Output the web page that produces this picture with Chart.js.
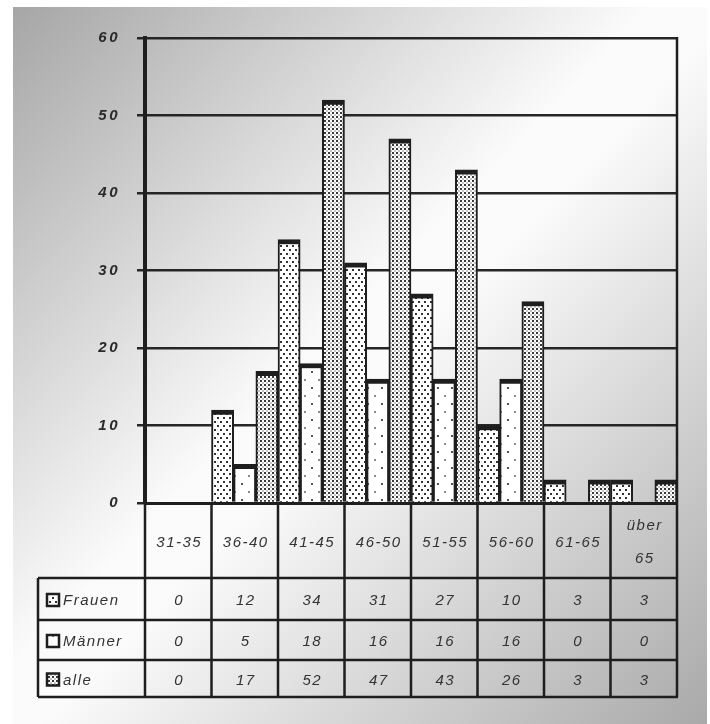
<!DOCTYPE html>
<html>
<head>
<meta charset="utf-8">
<title>Altersverteilung</title>
<script src="https://cdn.jsdelivr.net/npm/chart.js@4/dist/chart.umd.min.js"></script>
<style>
    html, body { margin: 0; padding: 0; background: #ffffff; }
    #frame {
        position: absolute; left: 13px; top: 7px; width: 694px; height: 717px;
        background: linear-gradient(to bottom right, #a6a6a6 0%, #fbfbfb 46%, #fbfbfb 52%, #a9a9a9 100%);
    }
    #chart { position: absolute; left: 0; top: 0; }
</style>
</head>
<body>
<div id="frame"></div>
<canvas id="chart" width="710" height="724"></canvas>
<script>
"use strict";

// age groups (x axis / table header)
var categories = ['31-35', '36-40', '41-45', '46-50', '51-55', '56-60', '61-65', 'über 65'];
var seriesNames = ['Frauen', 'Männer', 'alle'];
var frauen = [0, 12, 34, 31, 27, 10, 3, 3];
var maenner = [0, 5, 18, 16, 16, 16, 0, 0];
var alle = [0, 17, 52, 47, 43, 26, 3, 3];
var yMin = 0;
var yMax = 60;
var yStep = 10;

var ink = '#1e1e1e';
var textColor = '#333333';
var fontFamily = "'Liberation Sans', Arial, sans-serif";

// small dotted fills like the old print patterns
var makePattern = function (w, h, bg, dots) {
    var c = document.createElement('canvas');
    c.width = w;
    c.height = h;
    var g = c.getContext('2d');
    g.fillStyle = bg;
    g.fillRect(0, 0, w, h);
    for (var i = 0; i < dots.length; i++) {
        g.fillStyle = dots[i][3];
        g.fillRect(dots[i][0], dots[i][1], dots[i][2], dots[i][2]);
    }
    return g.createPattern(c, 'repeat');
};

var ctx = document.getElementById('chart').getContext('2d');

var patFrauen = makePattern(6, 8, '#ffffff', [[1, 1, 2, '#333333'], [4, 5, 2, '#333333']]);
var patMaenner = makePattern(14, 16, '#ffffff', [[3, 3, 2, '#555555'], [10, 11, 2, '#888888']]);
var patAlle = makePattern(4, 4, '#ffffff', [[0, 0, 2, '#3a3a3a'], [2, 2, 2, '#c4c4c4']]);
var patterns = [patFrauen, patMaenner, patAlle];
var tableRows = [frauen, maenner, alle];

var barBorder = { top: 5, left: 2, right: 2, bottom: 0 };

var tablePlugin = {
    id: 'dataTable',
    beforeDraw: function (chart) {
        chart.ctx.letterSpacing = '2.5px';
    },
    afterDraw: function (chart) {
        var c = chart.ctx;
        var area = chart.chartArea;
        var xs = chart.scales.x;
        var half = (xs.getPixelForValue(1) - xs.getPixelForValue(0)) / 2;
        var tableLeft = 38;
        var headBottom = 578;
        var rowLines = [578, 620, 660, 697];
        var i, j, cx;

        c.save();
        c.strokeStyle = ink;
        c.lineWidth = 2.5;
        c.beginPath();
        // right frame of the plot, down through the table
        c.moveTo(area.right, area.top - 1);
        c.lineTo(area.right, rowLines[3]);
        // column separators
        for (i = 0; i < categories.length; i++) {
            cx = xs.getPixelForValue(i) - half;
            c.moveTo(cx, area.bottom);
            c.lineTo(cx, rowLines[3]);
        }
        c.moveTo(tableLeft, headBottom);
        c.lineTo(tableLeft, rowLines[3]);
        for (i = 0; i < rowLines.length; i++) {
            c.moveTo(tableLeft, rowLines[i]);
            c.lineTo(area.right + 1, rowLines[i]);
        }
        c.stroke();

        c.fillStyle = textColor;
        c.font = 'italic 15px ' + fontFamily;
        c.letterSpacing = '1.5px';
        c.textAlign = 'center';
        c.textBaseline = 'middle';

        // header row with the age groups
        for (i = 0; i < categories.length; i++) {
            cx = xs.getPixelForValue(i) + 1;
            var lines = categories[i].split(' ');
            var mid = (area.bottom + headBottom) / 2 + 2;
            for (j = 0; j < lines.length; j++) {
                c.fillText(lines[j], cx, mid + (j - (lines.length - 1) / 2) * 33);
            }
        }

        // value rows with legend keys
        for (j = 0; j < tableRows.length; j++) {
            var ry = (rowLines[j] + rowLines[j + 1]) / 2 + 2;
            c.textAlign = 'center';
            for (i = 0; i < categories.length; i++) {
                c.fillText(String(tableRows[j][i]), xs.getPixelForValue(i) + 1, ry);
            }
            c.fillStyle = patterns[j];
            c.fillRect(47, ry - 7, 12, 12);
            c.strokeStyle = ink;
            c.lineWidth = 2.5;
            c.strokeRect(47, ry - 7, 12, 12);
            c.fillStyle = textColor;
            c.textAlign = 'left';
            c.fillText(seriesNames[j], 63, ry);
        }
        c.restore();
        c.letterSpacing = '0px';
    }
};

var chart = new Chart(ctx, {
    type: 'bar',
    data: {
        labels: categories,
        datasets: [
            { label: seriesNames[0], data: frauen, backgroundColor: patFrauen },
            { label: seriesNames[1], data: maenner, backgroundColor: patMaenner },
            { label: seriesNames[2], data: alle, backgroundColor: patAlle }
        ]
    },
    options: {
        responsive: false,
        animation: false,
        devicePixelRatio: 1,
        layout: { padding: { left: 0, top: 38, right: 33, bottom: 0 } },
        datasets: {
            bar: {
                categoryPercentage: 1,
                barPercentage: 1,
                borderColor: ink,
                borderWidth: barBorder,
                borderSkipped: false
            }
        },
        plugins: {
            legend: { display: false },
            tooltip: { enabled: false }
        },
        scales: {
            x: {
                grid: { display: false },
                border: { display: true, color: ink, width: 3 },
                ticks: { display: false },
                afterFit: function (scale) { scale.height = 221; }
            },
            y: {
                min: yMin,
                max: yMax,
                ticks: {
                    stepSize: yStep,
                    padding: 17,
                    color: '#2a2a2a',
                    font: { family: fontFamily, size: 15, style: 'italic', weight: 'bold' }
                },
                grid: { color: '#262626', lineWidth: 2.5, tickLength: 8, tickColor: '#262626', tickWidth: 2.5 },
                border: { display: true, color: ink, width: 4 },
                afterFit: function (scale) { scale.width = 145; }
            }
        }
    },
    plugins: [tablePlugin]
});
</script>
</body>
</html>
